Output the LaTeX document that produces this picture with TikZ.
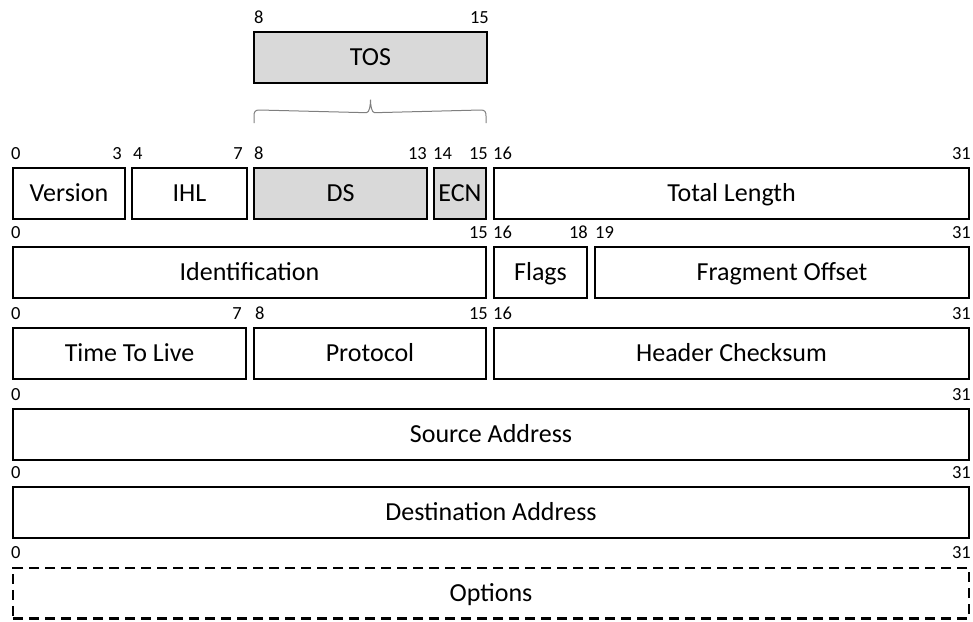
\documentclass[tikz,border=0pt]{standalone}
\usepackage{fontspec}
\setmainfont{Carlito}
\definecolor{tosgray}{HTML}{D9D9D9}
\definecolor{bracegray}{HTML}{7F7F7F}

\begin{document}
\begin{tikzpicture}[x=1pt, y=-1pt,
  field/.style={draw, line width=2.4pt, minimum height=50.6pt, inner sep=0pt,
    text height=16.7pt, text depth=0pt, font=\fontsize{26}{30}\selectfont},
  shaded/.style={field, fill=tosgray},
  optfield/.style={field, dash pattern=on 10pt off 6pt},
  bitno/.style={inner sep=0pt, font=\fontsize{18.5}{20}\selectfont},
  lo/.style={bitno, anchor=base west},
  hi/.style={bitno, anchor=base east},
  tosbrace/.style={draw=bracegray, line width=1pt}]
  \useasboundingbox (0,0) rectangle (973,621);
  % TOS byte
  \node[shaded, minimum width=232.6pt] (tos) at (370.5,57.5) {TOS};
  \node[lo] (tos-lo) at ([xshift=1pt, yshift=7.7pt]tos.north west) {8};
  \node[hi] (tos-hi) at ([xshift=1pt, yshift=7.7pt]tos.north east) {15};
  % row 1
  \node[field, minimum width=111.6pt] (ver) at (69,193.5) {Version};
  \node[field, minimum width=114.6pt] (ihl) at (189.5,193.5) {IHL};
  \node[shaded, minimum width=172.6pt] (ds) at (340.5,193.5) {DS};
  \node[shaded, minimum width=51.6pt] (ecn) at (460,193.5) {ECN};
  \node[field, minimum width=474.6pt] (tl) at (731.5,193.5) {Total Length};
  \node[lo] (ver-lo) at ([xshift=-1pt, yshift=7.7pt]ver.north west) {0};
  \node[hi] (ver-hi) at ([xshift=-4pt, yshift=7.7pt]ver.north east) {3};
  \node[lo] (ihl-lo) at ([xshift=2pt, yshift=7.7pt]ihl.north west) {4};
  \node[hi] (ihl-hi) at ([xshift=-5pt, yshift=7.7pt]ihl.north east) {7};
  \node[lo] (ds-lo) at ([xshift=1pt, yshift=7.7pt]ds.north west) {8};
  \node[hi] (ds-hi) at ([xshift=-1pt, yshift=7.7pt]ds.north east) {13};
  \node[lo] (ecn-lo) at ([xshift=0pt, yshift=7.7pt]ecn.north west) {14};
  \node[hi] (ecn-hi) at ([xshift=1pt, yshift=7.7pt]ecn.north east) {15};
  \node[lo] (tl-lo) at ([xshift=0pt, yshift=7.7pt]tl.north west) {16};
  \node[hi] (tl-hi) at ([xshift=1pt, yshift=7.7pt]tl.north east) {31};
  % brace from DS+ECN up to TOS
  \coordinate (tosl) at ([xshift=1pt, yshift=44pt]ds.north west);
  \coordinate (tosr) at ([xshift=-1pt, yshift=44pt]ecn.north east);
  \coordinate (tostip) at ([yshift=-15.7pt]tos.south);
  \draw[tosbrace] (tosl) -- ++(0,-7) .. controls +(0,-4) and +(-4,0) .. ++(5,-6)
    -- ([xshift=-4pt, yshift=-13pt]tostip)
    .. controls +(3,0) and +(0,5) .. (tostip)
    .. controls +(0,5) and +(-3,0) .. ([xshift=4pt, yshift=-13pt]tostip)
    -- ([xshift=-5pt, yshift=13pt]tosr)
    .. controls +(4,0) and +(0,-4) .. ([yshift=7pt]tosr) -- (tosr);
  % row 2
  \node[field, minimum width=472.6pt] (id) at (249.5,272.5) {Identification};
  \node[field, minimum width=92.6pt] (flags) at (540.5,272.5) {Flags};
  \node[field, minimum width=373.6pt] (frag) at (782,272.5) {Fragment Offset};
  \node[lo] (id-lo) at ([xshift=-1pt, yshift=7.7pt]id.north west) {0};
  \node[hi] (id-hi) at ([xshift=1pt, yshift=7.7pt]id.north east) {15};
  \node[lo] (flags-lo) at ([xshift=0pt, yshift=7.7pt]flags.north west) {16};
  \node[hi] (flags-hi) at ([xshift=0pt, yshift=7.7pt]flags.north east) {18};
  \node[lo] (frag-lo) at ([xshift=1pt, yshift=7.7pt]frag.north west) {19};
  \node[hi] (frag-hi) at ([xshift=1pt, yshift=7.7pt]frag.north east) {31};
  % row 3
  \node[field, minimum width=232.6pt] (ttl) at (129.5,353.5) {Time To Live};
  \node[field, minimum width=231.6pt] (proto) at (370,353.5) {Protocol};
  \node[field, minimum width=474.6pt] (hcs) at (731.5,353.5) {Header Checksum};
  \node[lo] (ttl-lo) at ([xshift=-1pt, yshift=7.7pt]ttl.north west) {0};
  \node[hi] (ttl-hi) at ([xshift=-5pt, yshift=7.7pt]ttl.north east) {7};
  \node[lo] (proto-lo) at ([xshift=2pt, yshift=7.7pt]proto.north west) {8};
  \node[hi] (proto-hi) at ([xshift=1pt, yshift=7.7pt]proto.north east) {15};
  \node[lo] (hcs-lo) at ([xshift=0pt, yshift=7.7pt]hcs.north west) {16};
  \node[hi] (hcs-hi) at ([xshift=1pt, yshift=7.7pt]hcs.north east) {31};
  % rows 4 to 6, full width
  \node[field, minimum width=955.6pt] (src) at (491,434.5) {Source Address};
  \node[lo] (src-lo) at ([xshift=-1pt, yshift=7.7pt]src.north west) {0};
  \node[hi] (src-hi) at ([xshift=1pt, yshift=7.7pt]src.north east) {31};
  \node[field, minimum width=955.6pt] (dst) at (491,512.5) {Destination Address};
  \node[lo] (dst-lo) at ([xshift=-1pt, yshift=7.7pt]dst.north west) {0};
  \node[hi] (dst-hi) at ([xshift=1pt, yshift=7.7pt]dst.north east) {31};
  \node[optfield, minimum width=955.6pt] (opts) at (491,593) {Options};
  \node[lo] (opts-lo) at ([xshift=-1pt, yshift=7.7pt]opts.north west) {0};
  \node[hi] (opts-hi) at ([xshift=1pt, yshift=7.7pt]opts.north east) {31};
\end{tikzpicture}
\end{document}
